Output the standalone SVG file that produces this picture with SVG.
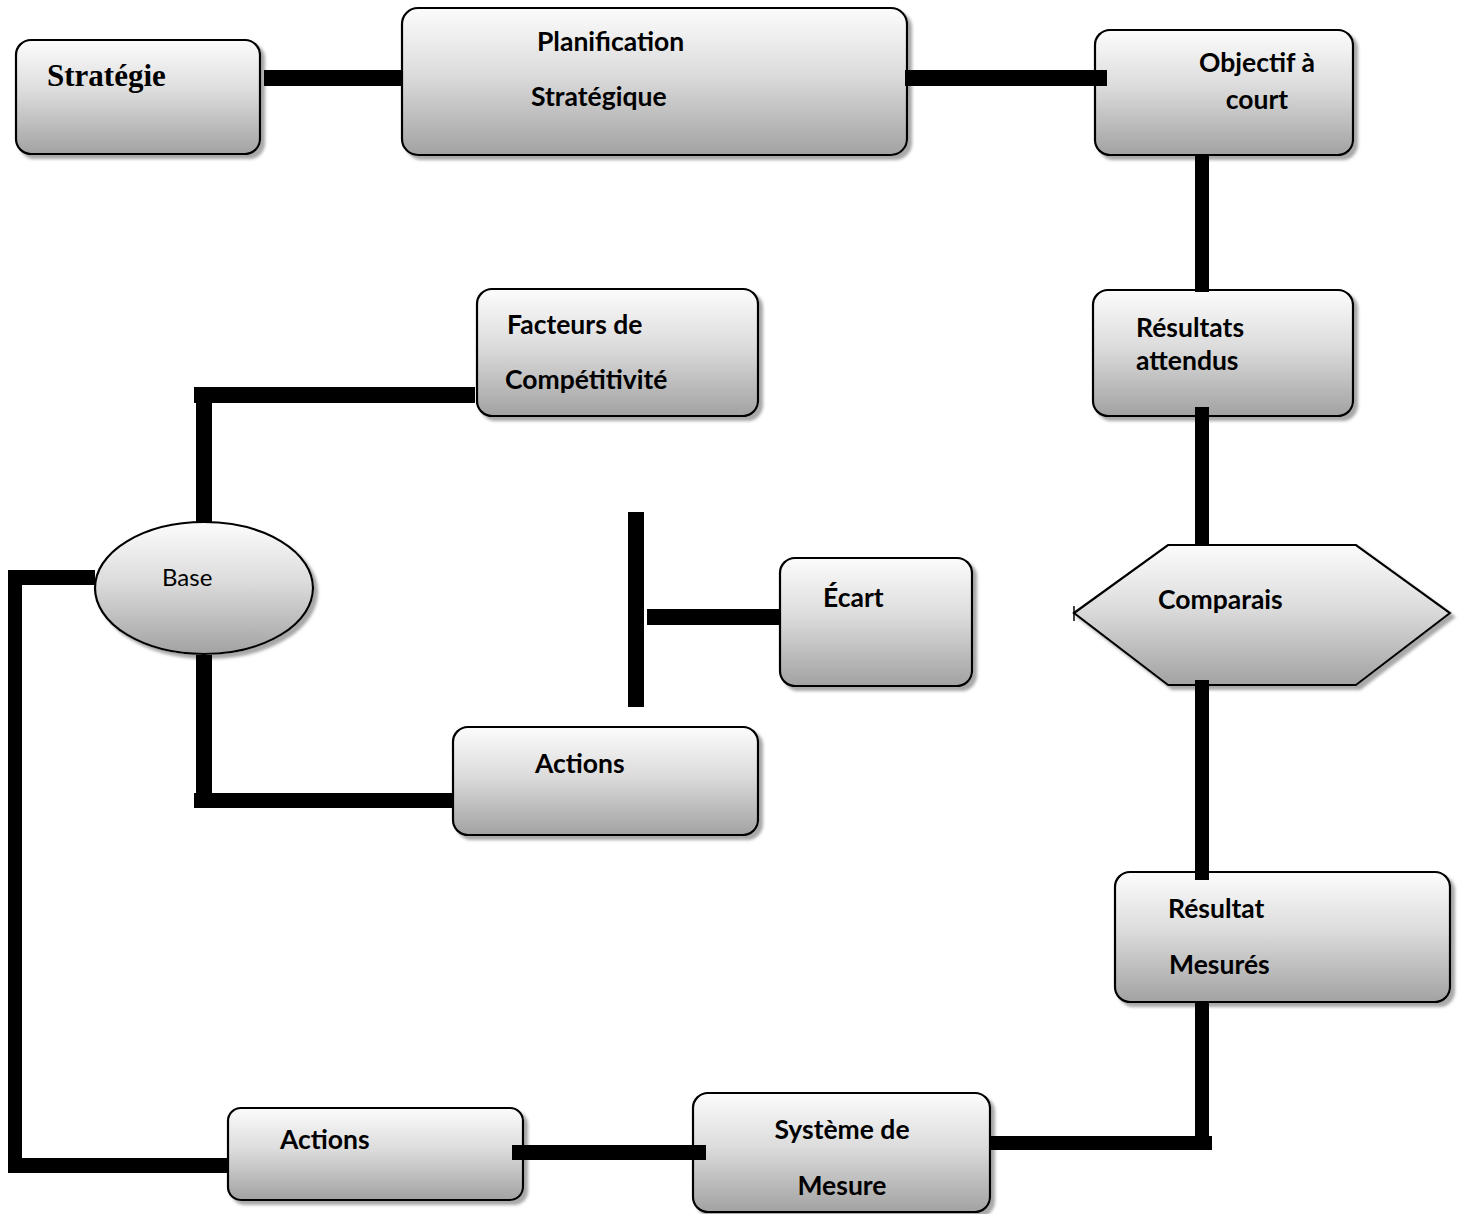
<svg xmlns="http://www.w3.org/2000/svg" width="1462" height="1214" viewBox="0 0 1462 1214">
  <defs>
    <linearGradient id="fillGrad" x1="0" y1="0" x2="0" y2="1">
      <stop offset="0" stop-color="#fcfcfc"/>
      <stop offset="0.45" stop-color="#dcdcdc"/>
      <stop offset="1" stop-color="#a2a2a2"/>
    </linearGradient>
    <filter id="shadow" x="-5%" y="-5%" width="115%" height="120%">
      <feGaussianBlur in="SourceAlpha" stdDeviation="1.5" result="blur"/>
      <feOffset in="blur" dx="4" dy="4" result="off"/>
      <feFlood flood-color="#8c8c8c" flood-opacity="0.75"/>
      <feComposite in2="off" operator="in" result="sh"/>
      <feMerge>
        <feMergeNode in="sh"/>
        <feMergeNode in="SourceGraphic"/>
      </feMerge>
    </filter>
  </defs>
  <style>
    .box { fill: url(#fillGrad); stroke: #000; stroke-width: 2.2; filter: url(#shadow); }
    .lbl { font-family: Lato, "Liberation Sans", sans-serif; font-weight: bold; font-size: 26.5px; fill: #000; }
    .reg { font-family: Lato, "Liberation Sans", sans-serif; font-size: 24px; fill: #000; }
    .serif { font-family: "Liberation Serif", "DejaVu Serif", serif; font-weight: bold; font-size: 31px; fill: #000; }
    .bar { fill: #000; }
  </style>
  <rect width="1462" height="1214" fill="#fff"/>

  <g id="nodes">
    <g id="strategie">
      <rect class="box" x="16" y="40" width="244" height="114" rx="15"/>
      <text class="serif" x="47" y="86">Stratégie</text>
    </g>
    <g id="planification">
      <rect class="box" x="402" y="8" width="505" height="147" rx="16"/>
      <text class="lbl" x="537" y="51">Planification</text>
      <text class="lbl" x="531" y="106">Stratégique</text>
    </g>
    <g id="objectif">
      <rect class="box" x="1095" y="30" width="258" height="125" rx="15"/>
      <text class="lbl" x="1257" y="72" text-anchor="middle">Objectif à</text>
      <text class="lbl" x="1257" y="109" text-anchor="middle">court</text>
    </g>
    <g id="resultats-attendus">
      <rect class="box" x="1093" y="290" width="260" height="126" rx="15"/>
      <text class="lbl" x="1136" y="337">Résultats</text>
      <text class="lbl" x="1136" y="370">attendus</text>
    </g>
    <g id="comparaison">
      <polygon class="box" points="1074,613 1168,545 1356,545 1450,613 1356,685 1168,685"/>
      <line x1="1074" y1="606" x2="1074" y2="621" stroke="#000" stroke-width="1.5"/>
      <text class="lbl" x="1158" y="609">Comparais</text>
    </g>
    <g id="resultat-mesures">
      <rect class="box" x="1115" y="872" width="335" height="130" rx="15"/>
      <text class="lbl" x="1168" y="918">Résultat</text>
      <text class="lbl" x="1169" y="974">Mesurés</text>
    </g>
    <g id="systeme-mesure">
      <rect class="box" x="693" y="1093" width="297" height="119" rx="15"/>
      <text class="lbl" x="842" y="1139" text-anchor="middle">Système de</text>
      <text class="lbl" x="842" y="1195" text-anchor="middle">Mesure</text>
    </g>
    <g id="actions-bas">
      <rect class="box" x="228" y="1108" width="295" height="92" rx="13"/>
      <text class="lbl" x="280" y="1149">Actions</text>
    </g>
    <g id="base">
      <ellipse class="box" cx="204" cy="588" rx="109" ry="66"/>
      <text class="reg" x="162" y="586">Base</text>
    </g>
    <g id="facteurs">
      <rect class="box" x="477" y="289" width="281" height="127" rx="15"/>
      <text class="lbl" x="507" y="334">Facteurs de</text>
      <text class="lbl" x="505" y="389">Compétitivité</text>
    </g>
    <g id="actions-milieu">
      <rect class="box" x="453" y="727" width="305" height="108" rx="15"/>
      <text class="lbl" x="535" y="773">Actions</text>
    </g>
    <g id="ecart">
      <rect class="box" x="780" y="558" width="192" height="128" rx="15"/>
      <text class="lbl" x="823" y="607">Écart</text>
    </g>
  </g>

  <g id="connectors">
    <rect class="bar" x="264" y="70" width="138" height="16"/>
    <rect class="bar" x="905" y="70" width="202" height="16"/>
    <rect class="bar" x="1195" y="155" width="14" height="137"/>
    <rect class="bar" x="1195" y="407" width="14" height="138"/>
    <rect class="bar" x="1195" y="680" width="14" height="200"/>
    <rect class="bar" x="1195" y="1002" width="14" height="134"/>
    <rect class="bar" x="990" y="1136" width="222" height="14"/>
    <rect class="bar" x="512" y="1145" width="194" height="15"/>
    <rect class="bar" x="8" y="1158" width="220" height="15"/>
    <rect class="bar" x="8" y="570" width="14" height="603"/>
    <rect class="bar" x="8" y="570" width="87" height="15"/>
    <rect class="bar" x="196" y="402" width="16" height="120"/>
    <rect class="bar" x="194" y="387" width="281" height="16"/>
    <rect class="bar" x="196" y="655" width="16" height="138"/>
    <rect class="bar" x="194" y="793" width="259" height="15"/>
    <rect class="bar" x="628" y="512" width="16" height="195"/>
    <rect class="bar" x="647" y="609" width="133" height="16"/>
  </g>
</svg>
